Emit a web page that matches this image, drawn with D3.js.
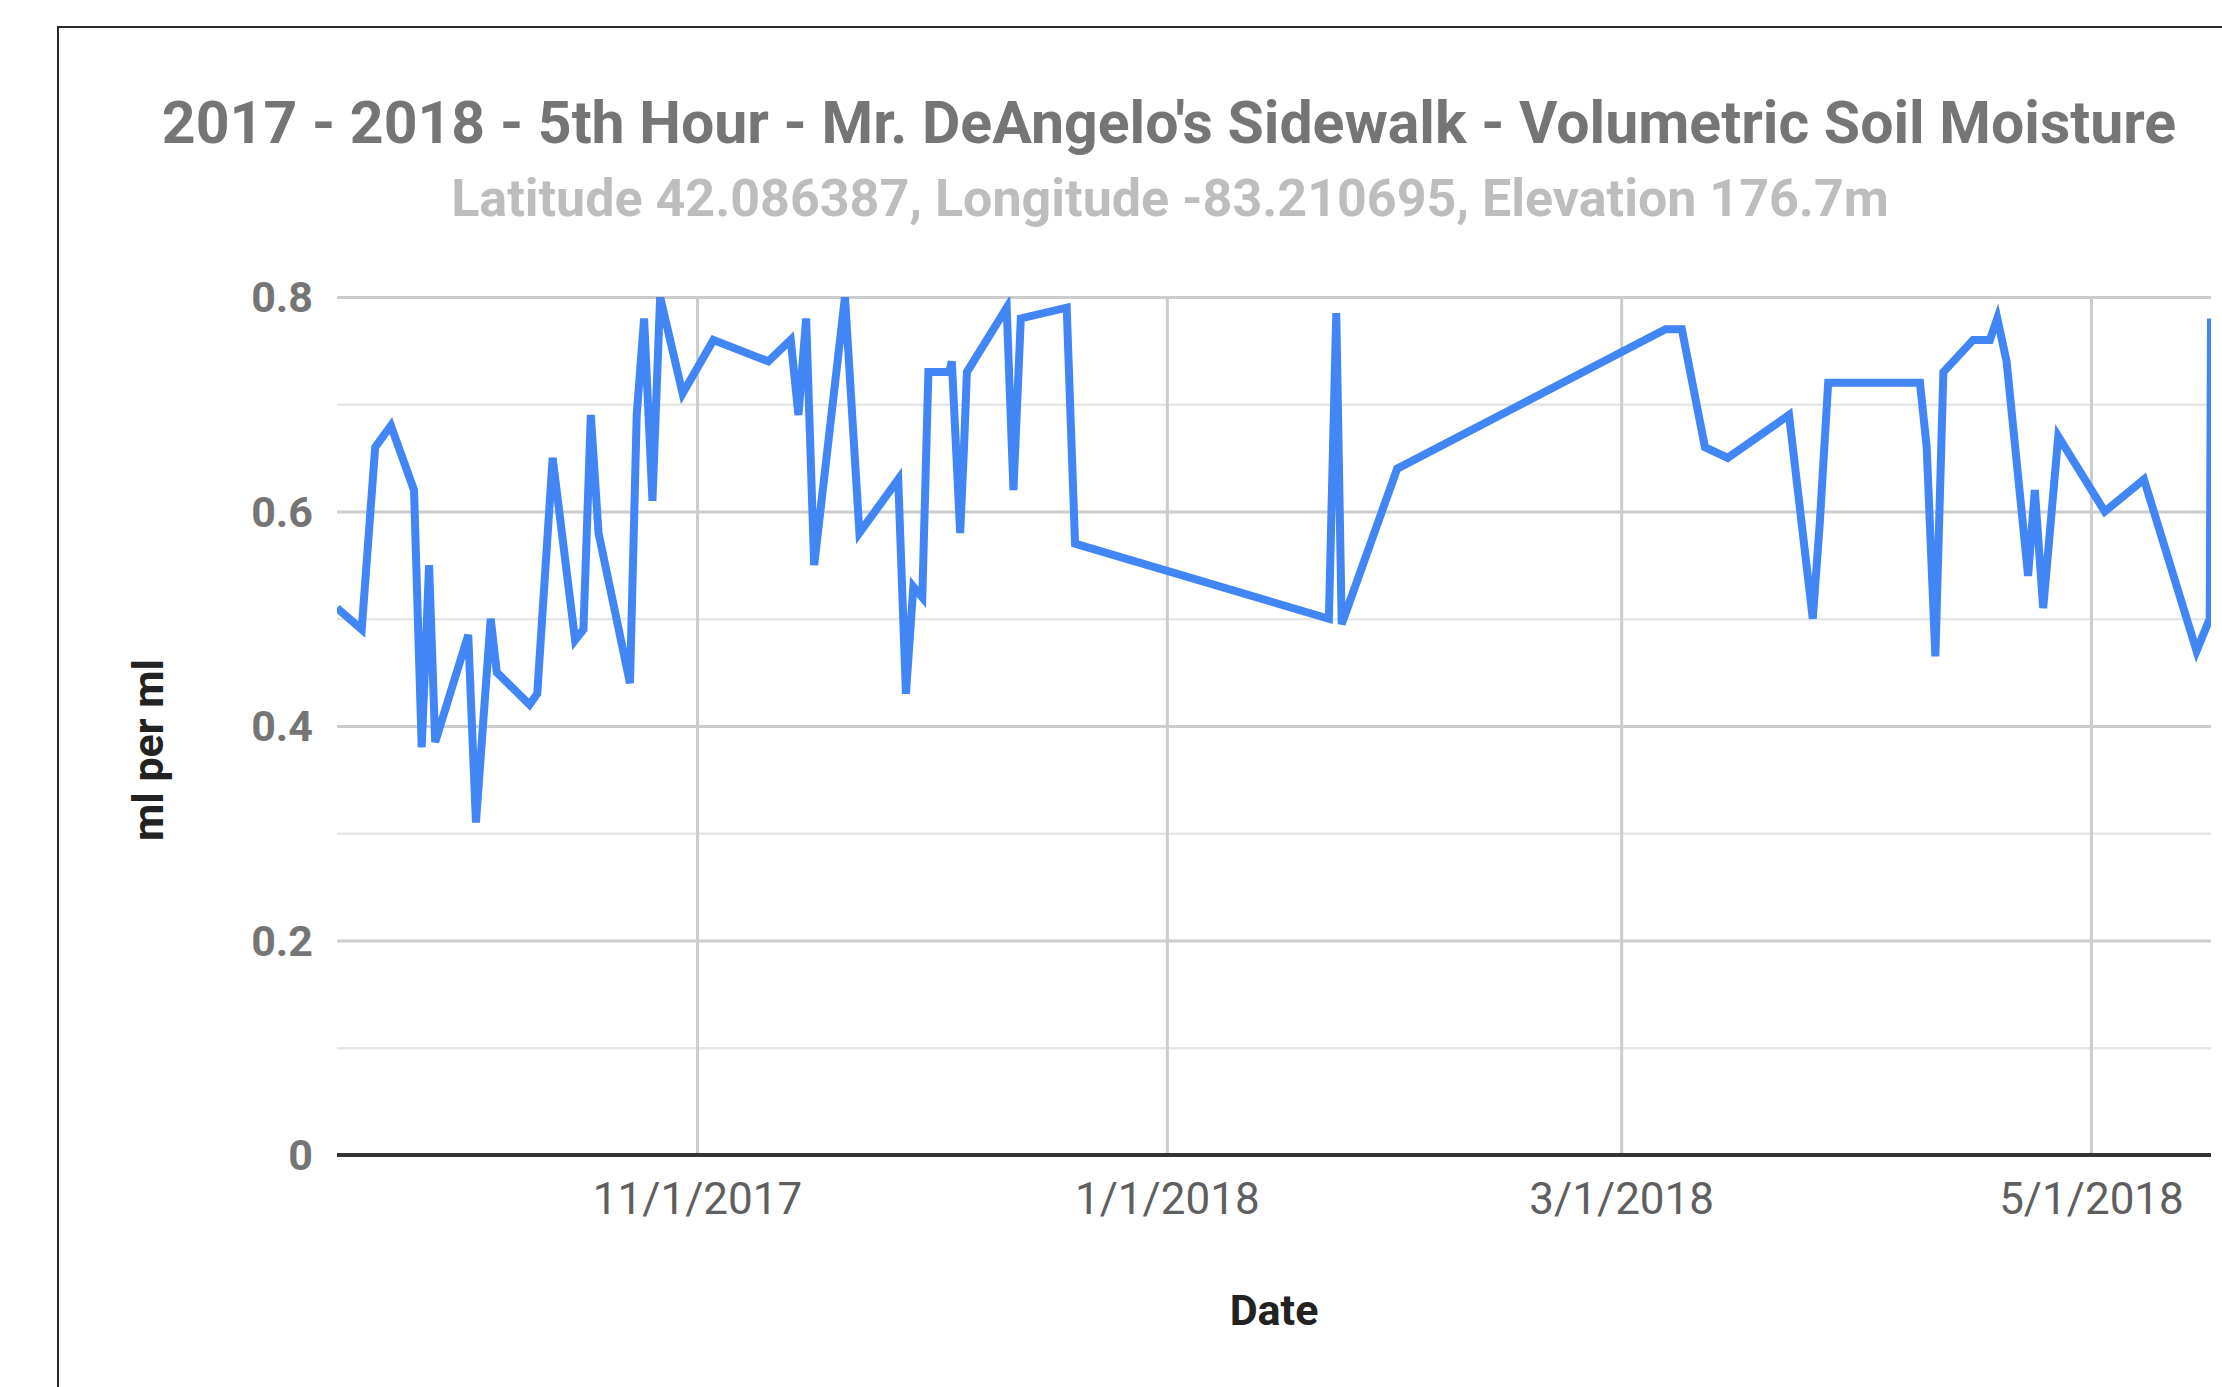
<!DOCTYPE html>
<html>
<head>
<meta charset="utf-8">
<script src="https://cdn.jsdelivr.net/npm/d3@7"></script>
<style>
  body { margin: 0; background: #fff; }
  svg { display: block; font-family: Roboto, "Noto Sans", sans-serif; }
</style>
</head>
<body>
<div id="chart"></div>
<script>
// DATA -----------------------------------------------------------------------
const readingDates = [
    "2017-09-15 06", "2017-09-18 11", "2017-09-20 05", "2017-09-22 06", "2017-09-25 06",
    "2017-09-26 06", "2017-09-27 05", "2017-09-28 00", "2017-10-02 07", "2017-10-03 07",
    "2017-10-05 05", "2017-10-06 00", "2017-10-10 06", "2017-10-11 06", "2017-10-13 06",
    "2017-10-16 04", "2017-10-17 06", "2017-10-18 05", "2017-10-19 05", "2017-10-23 07",
    "2017-10-24 04", "2017-10-25 03", "2017-10-26 05", "2017-10-27 05", "2017-10-30 03",
    "2017-11-03 03", "2017-11-10 06", "2017-11-13 04", "2017-11-14 04", "2017-11-15 04",
    "2017-11-16 05", "2017-11-20 05", "2017-11-22 02", "2017-11-27 03", "2017-11-28 03",
    "2017-11-29 02", "2017-11-30 06", "2017-12-01 01", "2017-12-03 18", "2017-12-04 02",
    "2017-12-05 04", "2017-12-05 16", "2017-12-06 01", "2017-12-11 05", "2017-12-12 02",
    "2017-12-13 01", "2017-12-19 00", "2017-12-20 02", "2018-01-22 01", "2018-01-23 00",
    "2018-01-23 17", "2018-01-30 22", "2018-03-06 18", "2018-03-08 21", "2018-03-11 21",
    "2018-03-14 20", "2018-03-22 19", "2018-03-25 21", "2018-03-26 19", "2018-03-27 21",
    "2018-04-08 19", "2018-04-09 16", "2018-04-10 19", "2018-04-11 20", "2018-04-15 17",
    "2018-04-17 21", "2018-04-18 20", "2018-04-20 01", "2018-04-22 20", "2018-04-23 17",
    "2018-04-24 19", "2018-04-26 18", "2018-05-02 19", "2018-05-07 21", "2018-05-14 17",
    "2018-05-16 10", "2018-05-16 14"
];

const moisture = [
    0.51, 0.49, 0.66, 0.68, 0.62,
    0.38, 0.55, 0.385, 0.485, 0.31,
    0.50, 0.45, 0.42, 0.43, 0.65,
    0.48, 0.49, 0.69, 0.58, 0.44,
    0.69, 0.78, 0.61, 0.80, 0.71,
    0.76, 0.74, 0.76, 0.69, 0.78,
    0.55, 0.80, 0.58, 0.63, 0.43,
    0.53, 0.52, 0.73, 0.73, 0.74,
    0.58, 0.66, 0.73, 0.79, 0.62,
    0.78, 0.79, 0.57, 0.50, 0.785,
    0.495, 0.64, 0.77, 0.77, 0.66,
    0.65, 0.69, 0.50, 0.59, 0.72,
    0.72, 0.66, 0.465, 0.73, 0.76,
    0.76, 0.78, 0.74, 0.54, 0.62,
    0.51, 0.67, 0.60, 0.63, 0.47,
    0.50, 0.78
];

const xTickLabels = ["11/1/2017", "1/1/2018", "3/1/2018", "5/1/2018"];
const yMajorTicks = [0, 0.2, 0.4, 0.6, 0.8];
const yMinorTicks = [0.1, 0.3, 0.5, 0.7];

const chartTitle = "2017 - 2018 - 5th Hour - Mr. DeAngelo's Sidewalk - Volumetric Soil Moisture";
const chartSubtitle = "Latitude 42.086387, Longitude -83.210695, Elevation 176.7m";
const xTitle = "Date";
const yTitle = "ml per ml";

// CHART INIT -----------------------------------------------------------------
const totalWidth = 2222, totalHeight = 1387;
const margin = ({top: 297, right: 11, bottom: 232, left: 337});
const width = totalWidth - margin.left - margin.right;
const height = totalHeight - margin.top - margin.bottom;

const parseDate = d3.timeParse('%Y-%m-%d %H');
const parseTick = d3.timeParse('%m/%d/%Y');

const data = readingDates.map((d, i) => ({date: parseDate(d), value: moisture[i]}));

const root = d3.select('#chart')
    .append('svg')
    .attr('width', totalWidth)
    .attr('height', totalHeight);

// outer frame
root.append('rect')
    .attr('x', 58)
    .attr('y', 27)
    .attr('width', totalWidth)
    .attr('height', totalHeight)
    .attr('fill', 'none')
    .attr('stroke', '#2b2b2b')
    .attr('stroke-width', 2);

// titles
root.append('text')
    .attr('x', 1169)
    .attr('y', 143)
    .attr('text-anchor', 'middle')
    .attr('font-size', 59)
    .attr('font-weight', 'bold')
    .attr('fill', '#757575')
    .text(chartTitle);

root.append('text')
    .attr('x', 1170)
    .attr('y', 216)
    .attr('text-anchor', 'middle')
    .attr('font-size', 52)
    .attr('font-weight', 'bold')
    .attr('fill', '#bdbdbd')
    .text(chartSubtitle);

const svg = root.append('g')
    .attr('transform', 'translate(' + margin.left + ',' + margin.top + ')');

// scales
const xScale = d3.scaleTime()
    .domain(d3.extent(data, d => d.date))
    .range([0, width]);

const yScale = d3.scaleLinear()
    .domain([0, 0.8])
    .range([height, 0]);

// minor gridlines
svg.append('g')
    .attr('class', 'grid minor')
    .call(d3.axisLeft(yScale).tickValues(yMinorTicks).tickSize(-width).tickFormat(''))
    .call(g => g.select('.domain').remove())
    .call(g => g.selectAll('line').attr('stroke', '#e6e6e6').attr('stroke-width', 2.5));

// major gridlines
svg.append('g')
    .attr('class', 'grid major')
    .call(d3.axisLeft(yScale).tickValues(yMajorTicks.slice(1)).tickSize(-width).tickFormat(''))
    .call(g => g.select('.domain').remove())
    .call(g => g.selectAll('line').attr('stroke', '#cccccc').attr('stroke-width', 3));

svg.append('g')
    .attr('class', 'grid vertical')
    .attr('transform', 'translate(0,' + height + ')')
    .call(d3.axisBottom(xScale).tickValues(xTickLabels.map(parseTick)).tickSize(-height).tickFormat(''))
    .call(g => g.select('.domain').remove())
    .call(g => g.selectAll('line').attr('stroke', '#cccccc').attr('stroke-width', 3));

// axes
const xAxis = d3.axisBottom(xScale)
    .tickValues(xTickLabels.map(parseTick))
    .tickFormat(d3.timeFormat('%-m/%-d/%Y'))
    .tickSize(0)
    .tickPadding(28);

const yAxis = d3.axisLeft(yScale)
    .tickValues(yMajorTicks)
    .tickFormat(d => d === 0 ? '0' : d3.format('.1f')(d))
    .tickSize(0)
    .tickPadding(24);

svg.append('g')
    .attr('class', 'axis y-axis')
    .call(yAxis)
    .call(g => g.select('.domain').remove())
    .call(g => g.selectAll('text')
        .attr('dy', '0.34em')
        .attr('font-size', 43)
        .attr('font-weight', 'bold')
        .attr('font-family', 'Roboto, sans-serif')
        .attr('fill', '#757575'));

svg.append('g')
    .attr('class', 'axis x-axis')
    .attr('transform', 'translate(0,' + height + ')')
    .call(xAxis)
    .call(g => g.select('.domain').remove())
    .call(g => g.selectAll('text')
        .attr('font-size', 44)
        .attr('font-family', 'Roboto, sans-serif')
        .attr('fill', '#5f5f5f'));

// baseline
svg.append('line')
    .attr('x1', 0)
    .attr('x2', width)
    .attr('y1', yScale(0))
    .attr('y2', yScale(0))
    .attr('stroke', '#333333')
    .attr('stroke-width', 4);

// clip to chart area
svg.append('clipPath')
    .attr('id', 'clip')
    .append('rect')
    .attr('width', width)
    .attr('height', height);

const line = d3.line()
    .x(d => xScale(d.date))
    .y(d => yScale(d.value));

svg.append('path')
    .datum(data)
    .attr('class', 'line')
    .attr('fill', 'none')
    .attr('stroke', '#4285f4')
    .attr('stroke-width', 8)
    .attr('d', line)
    .attr('clip-path', 'url(#clip)');

// axis titles
svg.append('text')
    .attr('x', width / 2)
    .attr('y', 1325 - margin.top)
    .attr('text-anchor', 'middle')
    .attr('font-size', 43)
    .attr('font-weight', 'bold')
    .attr('fill', '#222222')
    .text(xTitle);

svg.append('text')
    .attr('transform', 'translate(' + (163 - margin.left) + ',' + (750 - margin.top) + ') rotate(-90)')
    .attr('text-anchor', 'middle')
    .attr('font-size', 43)
    .attr('font-weight', 'bold')
    .attr('fill', '#222222')
    .text(yTitle);
</script>
</body>
</html>
